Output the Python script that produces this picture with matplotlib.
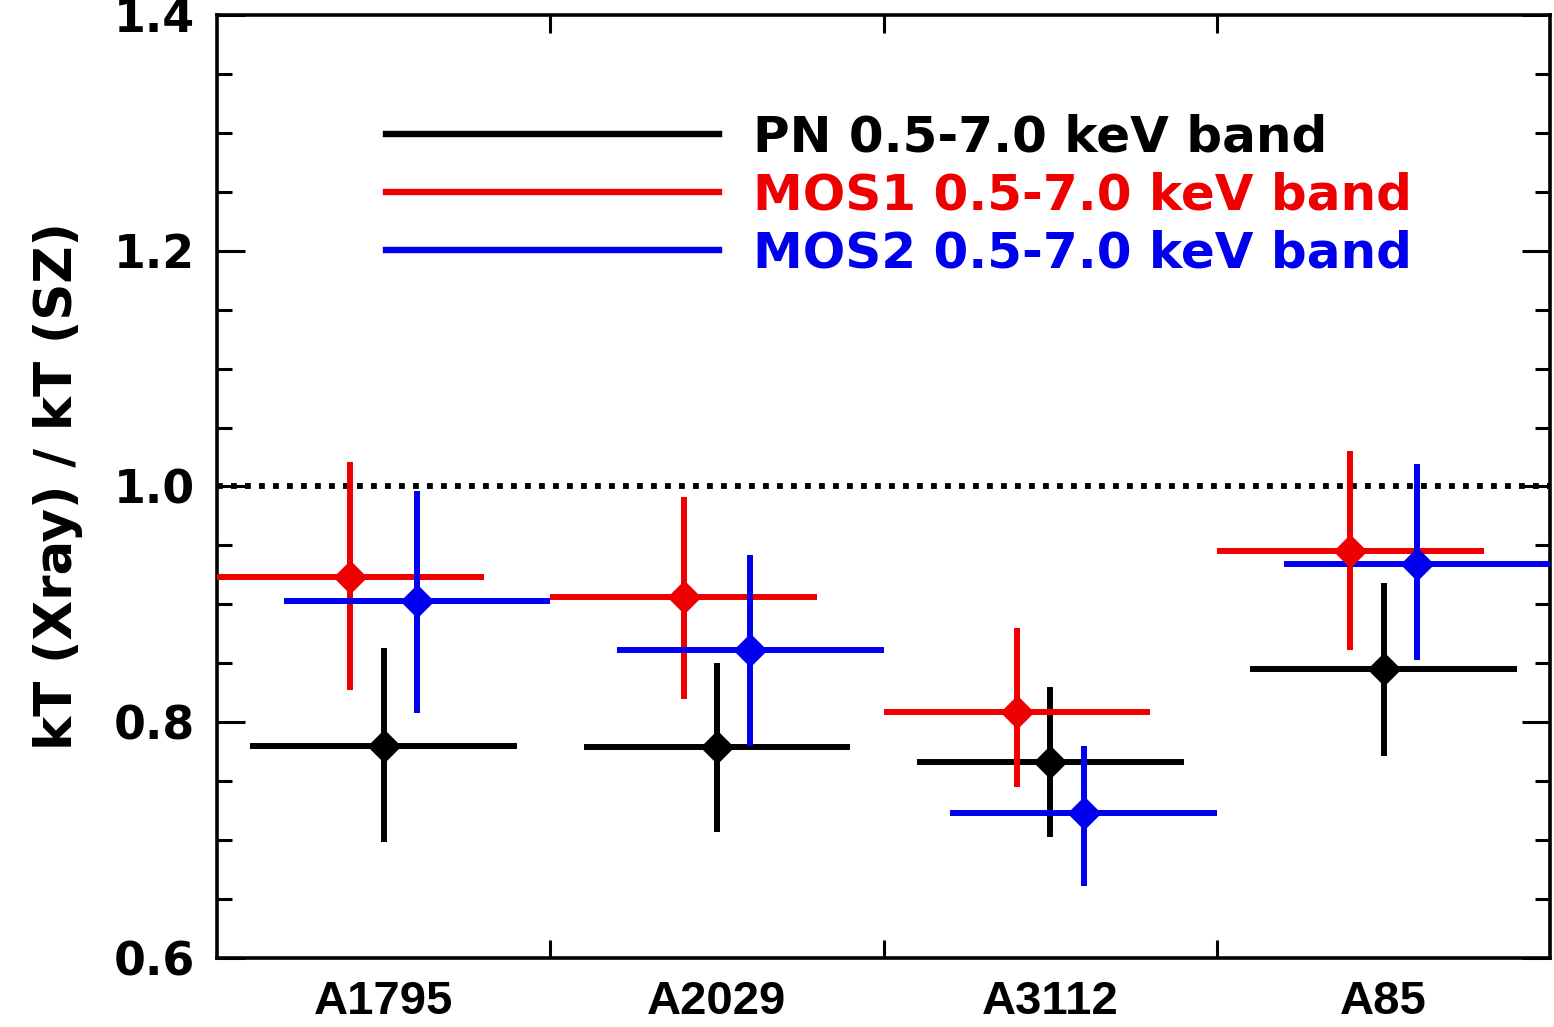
import numpy as np
import matplotlib.pyplot as plt
from matplotlib.ticker import MultipleLocator, FixedLocator, NullFormatter

clusters = ['A1795', 'A2029', 'A3112', 'A85']
bandas = ['PN 0.5-7.0 keV band', 'MOS1 0.5-7.0 keV band', 'MOS2 0.5-7.0 keV band']
colores = ['black', '#ee0000', '#0000ee']
desplaz = [0.0, -0.1, 0.1]     # PN al centro, MOS1 a la izquierda, MOS2 a la derecha
semiancho = 0.4

# cociente kT(Xray)/kT(SZ) con su error inferior y superior
pn = [0.780, 0.779, 0.766, 0.845]
pn_lo = [0.698, 0.707, 0.703, 0.771]
pn_hi = [0.863, 0.850, 0.830, 0.918]

mos1 = [0.923, 0.906, 0.809, 0.945]
mos1_lo = [0.827, 0.820, 0.745, 0.861]
mos1_hi = [1.021, 0.991, 0.880, 1.030]

mos2 = [0.903, 0.861, 0.723, 0.934]
mos2_lo = [0.808, 0.780, 0.661, 0.853]
mos2_hi = [0.996, 0.942, 0.780, 1.019]

valores = [(pn, pn_lo, pn_hi), (mos1, mos1_lo, mos1_hi), (mos2, mos2_lo, mos2_hi)]

fig = plt.figure(figsize=(15.54, 10.27), dpi=100)
ax = fig.add_axes([0.1396, 0.0672, 0.858, 0.9182])

x_base = np.arange(len(clusters)) + 0.5
ax.axhline(1.0, color='black', lw=4.2, ls=(0, (1.0, 1.4)), zorder=1)

lineas = []
for (y, lo, hi), dx, c, nombre in zip(valores, desplaz, colores, bandas):
    y = np.array(y)
    yerr = [y - np.array(lo), np.array(hi) - y]
    ax.errorbar(x_base + dx, y, xerr=semiancho, yerr=yerr, fmt='D', color=c,
                ms=16, elinewidth=4.3, capsize=0, zorder=3)
    l, = ax.plot([], [], color=c, lw=4.6, label=nombre)
    lineas.append(l)

ax.set_xlim(0, 4)
ax.set_ylim(0.6, 1.4)

ax.xaxis.set_major_locator(FixedLocator([1, 2, 3]))
ax.xaxis.set_major_formatter(NullFormatter())
ax.xaxis.set_minor_locator(FixedLocator(x_base))
ax.set_xticklabels(clusters, minor=True, family='Liberation Sans',
                   fontsize=34, fontweight='bold')
ax.tick_params(axis='x', which='major', direction='in', length=13, width=2.2,
               top=True, bottom=True)
ax.tick_params(axis='x', which='minor', length=0, pad=16)

ax.yaxis.set_major_locator(MultipleLocator(0.2))
ax.yaxis.set_minor_locator(MultipleLocator(0.05))
ax.set_yticks([0.6, 0.8, 1.0, 1.2, 1.4])
ax.set_yticklabels(['0.6', '0.8', '1.0', '1.2', '1.4'], fontsize=33, fontweight='bold')
ax.tick_params(axis='y', which='major', direction='in', length=20, width=2.2,
               left=True, right=True, pad=16)
ax.tick_params(axis='y', which='minor', direction='in', length=11, width=2.2,
               left=True, right=True)

for s in ax.spines.values():
    s.set_linewidth(2.6)

ax.set_ylabel('kT (Xray) / kT (SZ)', fontsize=37, fontweight='bold', labelpad=22)

leg = ax.legend(handles=lineas, loc='upper left', bbox_to_anchor=(0.093, 0.9435),
                frameon=False, handlelength=6.66, handletextpad=0.68,
                labelspacing=0.2, prop={'size': 36, 'weight': 'bold'})
for t, c in zip(leg.get_texts(), colores):
    t.set_color(c)

plt.savefig('out.png', dpi=100)
